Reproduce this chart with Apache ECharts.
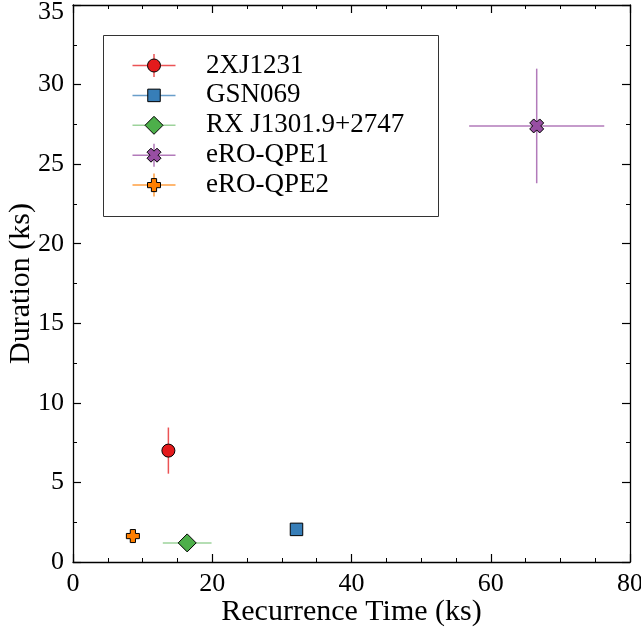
<!DOCTYPE html>
<html>
<head>
<meta charset="utf-8">
<script src="https://cdn.jsdelivr.net/npm/echarts@6/dist/echarts.min.js"></script>
<style>
  html, body { margin: 0; padding: 0; background: #fff; }
  #chart { width: 641px; height: 641px; }
</style>
</head>
<body>
<div id="chart"></div>
<script>
// QPE sources: recurrence time vs. flare duration (ks)
const sourceNames = ['2XJ1231', 'GSN069', 'RX J1301.9+2747', 'eRO-QPE1', 'eRO-QPE2'];
const recurrenceTime = [13.7, 32.1, 16.4, 66.6, 8.6];
const recurrenceErr = [0.5, 0.5, 3.5, 9.7, 0.4];
const duration = [7.0, 2.05, 1.2, 27.4, 1.63];
const durationErr = [1.45, 0, 0, 3.6, 0.3];
const xTicks = [0, 20, 40, 60, 80];
const yTicks = [0, 5, 10, 15, 20, 25, 30, 35];

// styling
const FONT = "'Liberation Serif', 'Times New Roman', serif";
const colors = ['#e41a1c', '#377eb8', '#4daf4a', '#984ea3', '#ff7f00'];
const barOpacity = [0.75, 0.75, 0.55, 0.75, 0.75];

// filled plus / x-cross outlines in unit coordinates (half-extent 1)
const plusPts = [[-0.4, -1], [0.4, -1], [0.4, -0.4], [1, -0.4], [1, 0.4], [0.4, 0.4], [0.4, 1], [-0.4, 1], [-0.4, 0.4], [-1, 0.4], [-1, -0.4], [-0.4, -0.4]];
const crossPts = [[3, -7], [7, -3], [4, 0], [7, 3], [3, 7], [0, 4], [-3, 7], [-7, 3], [-4, 0], [-7, -3], [-3, -7], [0, -4]].map(p => [p[0] / 7, p[1] / 7]);
function toPath(pts) {
  return 'path://' + pts.map((p, k) => (k ? 'L' : 'M') + p[0] + ',' + p[1]).join(' ') + ' Z';
}
const symbols = ['circle', 'rect', 'diamond', toPath(crossPts), toPath(plusPts)];
const polyShapes = [null, null, null, crossPts, plusPts];
const symbolSizes = [13, 12.5, 18, 14, 13];

const chart = echarts.init(document.getElementById('chart'), null, { renderer: 'canvas' });

function axisCommon(min, max, interval, minorSplit) {
  return {
    type: 'value', min: min, max: max, interval: interval,
    axisLine: { show: true, onZero: false, lineStyle: { color: '#000', width: 1.3 } },
    axisTick: { show: true, inside: true, length: 8, lineStyle: { color: '#000', width: 1.2 } },
    minorTick: { show: true, splitNumber: minorSplit, length: 4, lineStyle: { color: '#000', width: 1 } },
    splitLine: { show: false },
    minorSplitLine: { show: false }
  };
}

const yTop = yTicks[yTicks.length - 1];
const xMain = Object.assign(axisCommon(xTicks[0], xTicks[xTicks.length - 1], xTicks[1] - xTicks[0], 4), {
  position: 'bottom',
  axisLabel: { fontSize: 26, color: '#000', fontFamily: FONT, margin: 9 },
  name: 'Recurrence Time (ks)', nameLocation: 'middle', nameGap: 50, nameMoveOverlap: false,
  nameTextStyle: { fontSize: 30, color: '#000', fontFamily: FONT, verticalAlign: 'middle' }
});
const xTopAxis = Object.assign(axisCommon(xTicks[0], xTicks[xTicks.length - 1], xTicks[1] - xTicks[0], 4), {
  position: 'top', axisLabel: { show: false }
});
const yMain = Object.assign(axisCommon(yTicks[0], yTop, yTicks[1] - yTicks[0], 2), {
  position: 'left',
  axisLabel: {
    fontSize: 26, color: '#000', fontFamily: FONT, margin: 9,
    // keep the topmost label inside the canvas
    formatter: v => (v === yTop ? '{edge|' + v + '}' : String(v)),
    rich: { edge: { fontSize: 26, fontFamily: FONT, color: '#000', padding: [14, 0, 0, 0] } }
  },
  name: 'Duration (ks)', nameLocation: 'middle', nameGap: 52, nameRotate: 90, nameMoveOverlap: false,
  nameTextStyle: { fontSize: 30, color: '#000', fontFamily: FONT, verticalAlign: 'middle' }
});
const yRight = Object.assign(axisCommon(yTicks[0], yTop, yTicks[1] - yTicks[0], 2), {
  position: 'right', axisLabel: { show: false }
});

// error bars drawn through the axis scale
const errData = sourceNames.map((n, i) => [recurrenceTime[i], duration[i], recurrenceErr[i], durationErr[i]]);
const errorSeries = {
  type: 'custom', name: 'errorbars', xAxisIndex: 0, yAxisIndex: 0, z: 2, silent: true,
  encode: { x: 0, y: 1 },
  data: errData,
  renderItem: function (params, api) {
    const i = params.dataIndex;
    const x = api.value(0), y = api.value(1), ex = api.value(2), ey = api.value(3);
    const children = [];
    const st = { stroke: colors[i], lineWidth: 1.5, opacity: barOpacity[i] };
    if (ex > 0) {
      const a = api.coord([x - ex, y]), b = api.coord([x + ex, y]);
      children.push({ type: 'line', shape: { x1: a[0], y1: a[1], x2: b[0], y2: b[1] }, style: st });
    }
    if (ey > 0) {
      const a = api.coord([x, y - ey]), b = api.coord([x, y + ey]);
      children.push({ type: 'line', shape: { x1: a[0], y1: a[1], x2: b[0], y2: b[1] }, style: st });
    }
    return { type: 'group', children: children };
  }
};

const pointSeries = sourceNames.map((name, i) => ({
  type: 'scatter', name: name, xAxisIndex: 0, yAxisIndex: 0, z: 5,
  symbol: symbols[i], symbolSize: symbolSizes[i],
  itemStyle: { color: colors[i], borderColor: '#000', borderWidth: 1, opacity: 1 },
  data: [[recurrenceTime[i], duration[i]]]
}));

// legend box with error-bar handles
const legendBox = { x: 103, y: 35, w: 335, h: 181 };
const legendRow0 = 65.5, legendRowStep = 29.9, handleX = 154, textX = 206;
function legendMarker(i, cx, cy) {
  const s = symbolSizes[i];
  const style = { fill: colors[i], stroke: '#000', lineWidth: 1 };
  const sym = symbols[i];
  if (sym === 'circle') return { type: 'circle', z: 12, shape: { cx: cx, cy: cy, r: s / 2 }, style: style };
  if (sym === 'rect') return { type: 'rect', z: 12, shape: { x: cx - s / 2, y: cy - s / 2, width: s, height: s }, style: style };
  if (sym === 'diamond') return { type: 'polygon', z: 12, shape: { points: [[cx, cy - s / 2], [cx + s / 2, cy], [cx, cy + s / 2], [cx - s / 2, cy]] }, style: style };
  const pts = polyShapes[i].map(p => [cx + p[0] * s / 2, cy + p[1] * s / 2]);
  return { type: 'polygon', z: 12, shape: { points: pts }, style: style };
}
const legendElems = [{
  type: 'rect', z: 10,
  shape: { x: legendBox.x + 0.5, y: legendBox.y + 0.5, width: legendBox.w, height: legendBox.h },
  style: { fill: '#fff', stroke: '#333', lineWidth: 1 }
}];
sourceNames.forEach((name, i) => {
  const cy = legendRow0 + i * legendRowStep;
  const st = { stroke: colors[i], lineWidth: 1.5, opacity: barOpacity[i] };
  legendElems.push({ type: 'line', z: 11, shape: { x1: handleX - 21.5, y1: cy, x2: handleX + 21.5, y2: cy }, style: st });
  if (durationErr[i] > 0) {
    legendElems.push({ type: 'line', z: 11, shape: { x1: handleX, y1: cy - 11.5, x2: handleX, y2: cy + 11.5 }, style: st });
  }
  legendElems.push(legendMarker(i, handleX, cy));
  legendElems.push({
    type: 'text', z: 12, x: textX, y: cy,
    style: { text: name, fontSize: 27, fontFamily: FONT, fill: '#000', verticalAlign: 'middle' }
  });
});

chart.setOption({
  animation: false,
  backgroundColor: '#fff',
  grid: { left: 73, right: 11, top: 5, bottom: 79, containLabel: false, outerBoundsMode: 'none' },
  xAxis: [xMain, xTopAxis],
  yAxis: [yMain, yRight],
  series: [errorSeries].concat(pointSeries),
  graphic: legendElems
});
</script>
</body>
</html>
